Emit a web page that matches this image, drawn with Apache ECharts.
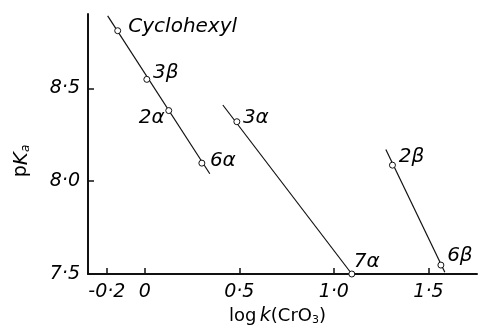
<!DOCTYPE html>
<html><head><meta charset="utf-8">
<script src="https://cdn.jsdelivr.net/npm/echarts@6/dist/echarts.min.js"></script>
<style>html,body{margin:0;padding:0;background:#fff}#c{width:479px;height:325px}</style>
</head><body><div id="c"></div>
<script>
const xTicks = [-0.2, 0, 0.5, 1.0, 1.5];
const yTicks = [7.5, 8.0, 8.5];
const lineA = [[-0.196, 8.89], [0.344, 8.04]];
const lineB = [[0.413, 8.41], [1.095, 7.50]];
const lineC = [[1.275, 8.17], [1.587, 7.51]];
const pointNames = ['Cyclohexyl', '3β', '2α', '6α', '3α', '7α', '2β', '6β'];
const pointX = [-0.143, 0.011, 0.127, 0.302, 0.487, 1.095, 1.31, 1.566];
const pointY = [8.81, 8.548, 8.38, 8.097, 8.32, 7.50, 8.086, 7.548];

// label centre offset from its point, in pixels
const labelOffset = {
  'Cyclohexyl': [65, -4],
  '3β': [19, -7],
  '2α': [-17, 7],
  '6α': [21, -2],
  '3α': [19, -4],
  '7α': [15, -12],
  '2β': [19, -8],
  '6β': [19, -9]
};
const fmt = v => (Math.abs(v) < 1e-9 ? '0' : v.toFixed(1).replace('.', '·'));
const font = {fontFamily: 'DejaVu Sans', fontStyle: 'italic', color: '#000'};

const chart = echarts.init(document.getElementById('c'));
const lineStyle = {color: '#111', width: 1.2};
const mkLine = d => ({type: 'line', data: d, symbol: 'none', lineStyle, silent: true, z: 1});
chart.setOption({
  animation: false,
  grid: {left: 88, right: 2, top: 14, bottom: 51, containLabel: false, outerBoundsMode: 'none'},
  xAxis: {
    type: 'value', min: -0.3, max: 1.757,
    axisLine: {onZero: false, lineStyle: {color: '#111', width: 2}},
    axisTick: {inside: true, length: 6, customValues: xTicks, lineStyle: {color: '#111', width: 1.5}},
    axisLabel: Object.assign({customValues: xTicks, formatter: fmt, fontSize: 19, margin: 9}, font),
    splitLine: {show: false},
    name: '{a|log} {b|k}{a|(CrO}{s|3}{a|)}', nameLocation: 'middle', nameGap: 29,
    nameTextStyle: {padding: [0, 10, 0, 0], rich: {
      a: {fontFamily: 'DejaVu Sans', fontSize: 18, color: '#000'},
      b: {fontFamily: 'DejaVu Sans', fontStyle: 'italic', fontSize: 19, color: '#000'},
      s: {fontFamily: 'DejaVu Sans', fontSize: 11, color: '#000', verticalAlign: 'bottom', padding: [7, 0, 0, 0]}
    }}
  },
  yAxis: {
    type: 'value', min: 7.5, max: 8.9,
    axisLine: {show: true, onZero: false, lineStyle: {color: '#111', width: 2}},
    axisTick: {show: true, inside: true, length: 6, customValues: yTicks, lineStyle: {color: '#111', width: 1.5}},
    axisLabel: Object.assign({customValues: yTicks, formatter: fmt, fontSize: 19, margin: 8}, font),
    splitLine: {show: false},
    name: '{a|p}{b|K}{s|a}', nameLocation: 'middle', nameRotate: 90, nameGap: 56,
    nameTextStyle: {padding: [0, 34, 0, 0], rich: {
      a: {fontFamily: 'DejaVu Sans', fontSize: 19, color: '#000'},
      b: {fontFamily: 'DejaVu Sans', fontStyle: 'italic', fontSize: 20, color: '#000'},
      s: {fontFamily: 'DejaVu Sans', fontStyle: 'italic', fontSize: 12, color: '#000', padding: [9, 0, 0, 0]}
    }}
  },
  series: [
    mkLine(lineA), mkLine(lineB), mkLine(lineC),
    {
      type: 'scatter', z: 3, symbol: 'circle', symbolSize: 6,
      itemStyle: {color: '#fff', borderColor: '#111', borderWidth: 1, opacity: 1},
      data: pointNames.map((n, i) => ({
        value: [pointX[i], pointY[i]], name: n,
        label: Object.assign({show: true, formatter: n, fontSize: 20, position: 'inside',
          align: 'center', verticalAlign: 'middle', offset: labelOffset[n]}, font)
      }))
    }
  ]
});
</script></body></html>
